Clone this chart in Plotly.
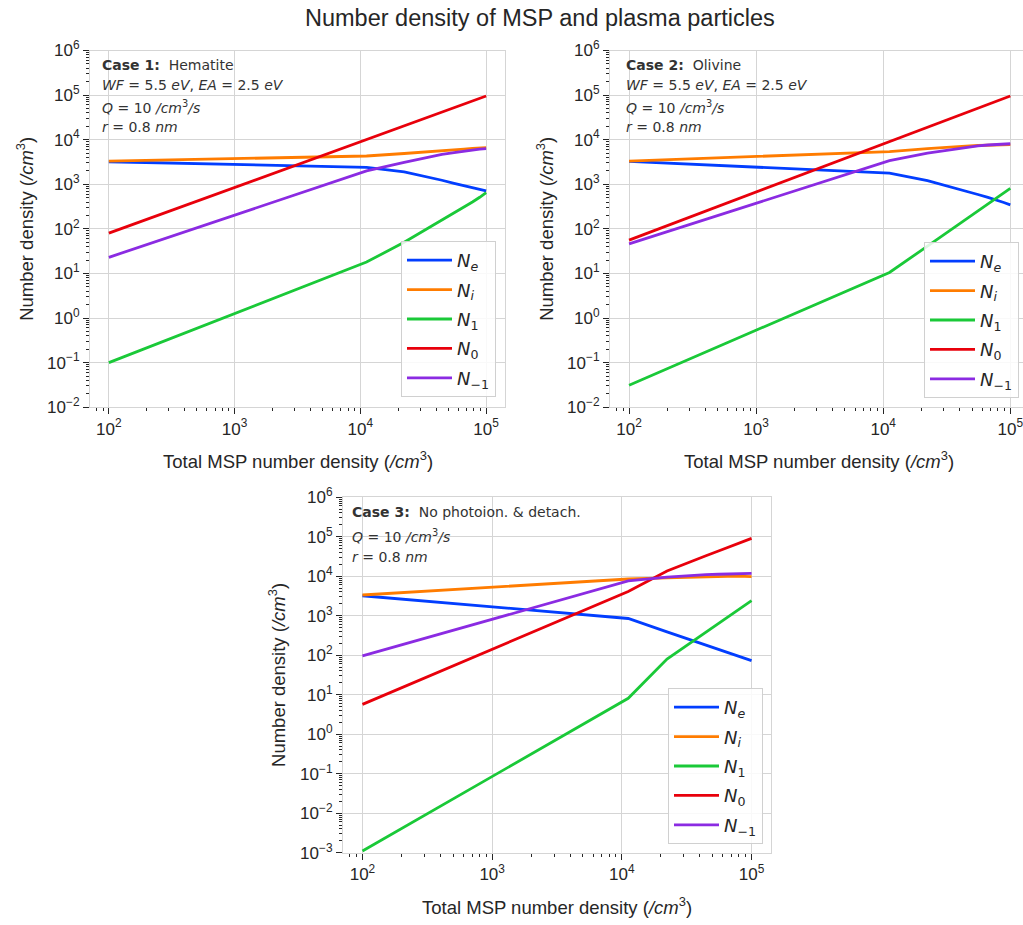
import plotly.graph_objects as go

W, H = 1023, 925

# ---------------- data ----------------
x_msp = [100, 11200, 22300, 33400, 44500, 55600, 66700, 77800, 88900, 100000]

# Case 1 : Hematite
ne_1 = [3200, 2400, 1900, 1500, 1230, 1050, 920, 830, 770, 715]
ni_1 = [3300, 4300, 4900, 5400, 5700, 5950, 6150, 6350, 6500, 6600]
n1_1 = [0.1, 18, 50, 98, 155, 225, 300, 400, 510, 650]
n0_1 = [80, 10100, 20500, 31000, 41600, 52400, 63000, 74000, 85000, 95500]
nm1_1 = [23, 2000, 3100, 4000, 4700, 5150, 5600, 5900, 6150, 6300]

# Case 2 : Olivine
ne_2 = [3250, 1780, 1200, 890, 710, 590, 510, 447, 390, 345]
ni_2 = [3300, 5400, 6300, 6900, 7200, 7400, 7550, 7650, 7700, 7750]
n1_2 = [0.031, 10.5, 41, 91, 162, 251, 363, 490, 646, 810]
n0_2 = [56, 9060, 19000, 29400, 40000, 50800, 61800, 73100, 84400, 95500]
nm1_2 = [46, 3400, 5000, 6000, 6800, 7300, 7600, 7850, 8000, 8100]

# Case 3 : No photoionisation & detachment
ne_3 = [3200, 850, 390, 245, 178, 138, 112, 95, 83, 73]
ni_3 = [3340, 8500, 9100, 9500, 9800, 10000, 10000, 10000, 9900, 9800]
n1_3 = [0.0011, 8.1, 80, 200, 400, 660, 1000, 1380, 1860, 2400]
n0_3 = [5.7, 4100, 13500, 23400, 33000, 43600, 55000, 66000, 79000, 91000]
nm1_3 = [96, 7600, 9500, 10500, 11000, 11200, 11350, 11500, 11650, 11800]

series_names = ["<i>N<sub>e</sub></i>", "<i>N<sub>i</sub></i>", "<i>N</i><sub>1</sub>",
                "<i>N</i><sub>0</sub>", "<i>N</i><sub>−1</sub>"]
colors = ["#023eff", "#ff7c00", "#1ac938", "#e8000b", "#8b2be2"]

cases = [
    [ne_1, ni_1, n1_1, n0_1, nm1_1],
    [ne_2, ni_2, n1_2, n0_2, nm1_2],
    [ne_3, ni_3, n1_3, n0_3, nm1_3],
]

x_tick_exp = [2, 3, 4, 5]
y_tick_exp_12 = [-2, -1, 0, 1, 2, 3, 4, 5, 6]
y_tick_exp_3 = [-3, -2, -1, 0, 1, 2, 3, 4, 5, 6]

case_text = [
    ["<b>Case 1:</b>  Hematite",
     "<i>WF</i> = 5.5 <i>eV</i>, <i>EA</i> = 2.5 <i>eV</i>",
     "<i>Q</i> = 10 <i>/cm</i><sup>3</sup><i>/s</i>",
     "<i>r</i> = 0.8 <i>nm</i>"],
    ["<b>Case 2:</b>  Olivine",
     "<i>WF</i> = 5.5 <i>eV</i>, <i>EA</i> = 2.5 <i>eV</i>",
     "<i>Q</i> = 10 <i>/cm</i><sup>3</sup><i>/s</i>",
     "<i>r</i> = 0.8 <i>nm</i>"],
    ["<b>Case 3:</b>  No photoion. &amp; detach.",
     "<i>Q</i> = 10 <i>/cm</i><sup>3</sup><i>/s</i>",
     "<i>r</i> = 0.8 <i>nm</i>"],
]

# ---------------- layout geometry (pixels) ----------------
def px(x):
    return x / W

def py(y):
    return 1 - y / H

panels = [
    dict(x0=90, x1=505, y0=50.5, y1=407.2, xr=[1.85, 5.15], yr=[-2, 6], yexp=y_tick_exp_12,
         text_x=100, text_y=[65, 85, 107, 127], leg=(496, 397), ylab_x=25, xlab_y=460),
    dict(x0=610, x1=1023, y0=50.5, y1=407.2, xr=[1.85, 5.10], yr=[-2, 6], yexp=y_tick_exp_12,
         text_x=624, text_y=[65, 85, 107, 127], leg=(1019, 398), ylab_x=545, xlab_y=460),
    dict(x0=343, x1=771, y0=497.2, y1=852.7, xr=[1.85, 5.15], yr=[-3, 6], yexp=y_tick_exp_3,
         text_x=350, text_y=[512, 536, 557], leg=(763, 844), ylab_x=277, xlab_y=906),
]

TXT = "#262626"
GRID = "#d5d5d5"
FONT = "Liberation Sans, Arial, sans-serif"
MFONT = "DejaVu Sans, sans-serif"

def sup(e):
    s = str(e).replace("-", "−")
    return "10<sup>" + s + "</sup>"

def minor_vals(lo, hi):
    vals = []
    for e in range(lo, hi + 1):
        for k in range(2, 10):
            vals.append(k * 10 ** e)
    return vals

fig = go.Figure()
annotations = []
layout_axes = {}

for i, (p, data) in enumerate(zip(panels, cases)):
    n = i + 1
    xa = "x" if n == 1 else f"x{n}"
    ya = "y" if n == 1 else f"y{n}"
    leg = "legend" if n == 1 else f"legend{n}"
    for j, (name, col, vals) in enumerate(zip(series_names, colors, data)):
        fig.add_trace(go.Scatter(
            x=x_msp, y=vals, mode="lines", name=name,
            line=dict(color=col, width=2.8),
            xaxis=xa, yaxis=ya, legend=leg, legendgroup=f"g{n}_{j}",
        ))
    xkey = "xaxis" if n == 1 else f"xaxis{n}"
    ykey = "yaxis" if n == 1 else f"yaxis{n}"
    layout_axes[xkey] = dict(
        type="log", domain=[px(p["x0"]), px(p["x1"])], range=p["xr"], anchor=ya,
        tickmode="array", tickvals=[10 ** e for e in x_tick_exp],
        ticktext=[sup(e) for e in x_tick_exp],
        ticks="outside", ticklen=6, tickwidth=1, tickcolor=TXT,
        showgrid=True, gridcolor=GRID, gridwidth=1,
        showline=True, mirror=True, linecolor=GRID, linewidth=1,
        zeroline=False, automargin=False, ticklabeloverflow="allow",
        tickfont=dict(family=FONT, size=17, color=TXT),
        minor=dict(tickmode="array", tickvals=minor_vals(1, 4), ticks="outside",
                   ticklen=3, tickwidth=1, tickcolor=TXT, showgrid=False),
    )
    layout_axes[ykey] = dict(
        type="log", domain=[py(p["y1"]), py(p["y0"])], range=p["yr"], anchor=xa,
        tickmode="array", tickvals=[10 ** e for e in p["yexp"]],
        ticktext=[sup(e) for e in p["yexp"]],
        ticks="outside", ticklen=6, tickwidth=1, tickcolor=TXT,
        showgrid=True, gridcolor=GRID, gridwidth=1,
        showline=True, mirror=True, linecolor=GRID, linewidth=1,
        zeroline=False, automargin=False, ticklabeloverflow="allow",
        tickfont=dict(family=FONT, size=17, color=TXT),
        minor=dict(tickmode="array", tickvals=minor_vals(p["yr"][0], 5), ticks="outside",
                   ticklen=3, tickwidth=1, tickcolor=TXT, showgrid=False),
    )
    layout_axes[leg] = dict(
        x=px(p["leg"][0]), y=py(p["leg"][1]), xanchor="right", yanchor="bottom",
        xref="paper", yref="paper",
        bgcolor="rgba(255,255,255,0.85)", bordercolor="#d0d0d0", borderwidth=1,
        font=dict(family=MFONT, size=18, color=TXT), tracegroupgap=3,
        itemwidth=45,
    )
    for t, yy in zip(case_text[i], p["text_y"]):
        annotations.append(dict(
            text=t, x=px(p["text_x"]), y=py(yy), xref="paper", yref="paper",
            xanchor="left", yanchor="middle", showarrow=False,
            font=dict(family=MFONT, size=14, color="#333333"),
        ))
    annotations.append(dict(
        text="Number density (<i>/cm</i><sup>3</sup>)",
        x=px(p["ylab_x"]), y=py((p["y0"] + p["y1"]) / 2), xref="paper", yref="paper",
        xanchor="center", yanchor="middle", textangle=-90, showarrow=False,
        font=dict(family=FONT, size=18.5, color=TXT),
    ))
    xc = (p["x0"] + p["x1"]) / 2 if n != 2 else 819
    annotations.append(dict(
        text="Total MSP number density (<i>/cm</i><sup>3</sup>)",
        x=px(xc), y=py(p["xlab_y"]), xref="paper", yref="paper",
        xanchor="center", yanchor="middle", showarrow=False,
        font=dict(family=FONT, size=18.5, color=TXT),
    ))

annotations.append(dict(
    text="Number density of MSP and plasma particles",
    x=px(540), y=py(18), xref="paper", yref="paper",
    xanchor="center", yanchor="middle", showarrow=False,
    font=dict(family=FONT, size=23.5, color=TXT),
))

fig.update_layout(
    width=W, height=H,
    margin=dict(l=0, r=0, t=0, b=0),
    paper_bgcolor="white", plot_bgcolor="white",
    showlegend=True,
    annotations=annotations,
    **layout_axes,
)

fig.write_html("out.html")
